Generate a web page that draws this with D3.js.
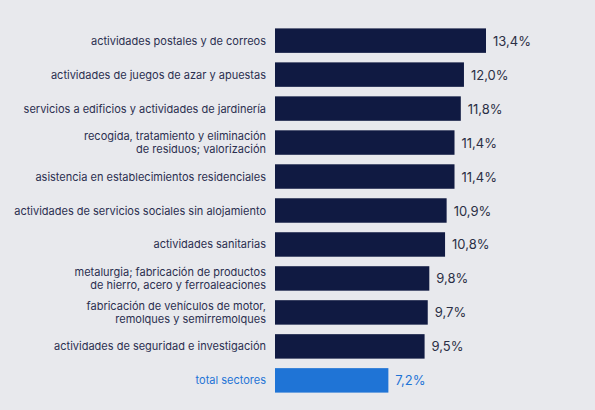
<!DOCTYPE html>
<html><head><meta charset="utf-8">
<script src="https://cdn.jsdelivr.net/npm/d3@7"></script>
<style>body{margin:0;background:#e8e9ed;}</style>
</head><body>
<svg id="chart" width="595" height="410"></svg>
<script>
// sector labels (lines) and values
var sectors = [
  ["actividades postales y de correos"],
  ["actividades de juegos de azar y apuestas"],
  ["servicios a edificios y actividades de jardinería"],
  ["recogida, tratamiento y eliminación", "de residuos; valorización"],
  ["asistencia en establecimientos residenciales"],
  ["actividades de servicios sociales sin alojamiento"],
  ["actividades sanitarias"],
  ["metalurgia; fabricación de productos", "de hierro, acero y ferroaleaciones"],
  ["fabricación de vehículos de motor,", "remolques y semirremolques"],
  ["actividades de seguridad e investigación"],
  ["total sectores"]
];
var values = [13.4, 12.0, 11.8, 11.4, 11.4, 10.9, 10.8, 9.8, 9.7, 9.5, 7.2];

var svg = d3.select("#chart");
var x = d3.scaleLinear().domain([0, 13.4]).range([275, 486]);
var y = d3.scaleBand().domain(d3.range(values.length)).range([25, 396]).paddingInner(0.28).paddingOuter(0.1);

var navy = "#101a42", blue = "#1f74d6";
var fmt = function(v){ return v.toFixed(1).replace(".", ",") + "%"; };

var g = svg.selectAll("g.row").data(values).enter().append("g");
g.append("rect")
  .attr("x", x(0)).attr("y", function(d,i){ return y(i); })
  .attr("width", function(d){ return x(d) - x(0); })
  .attr("height", y.bandwidth())
  .attr("fill", function(d,i){ return i == values.length-1 ? blue : navy; });

g.append("text")
  .attr("x", function(d){ return x(d) + 7; })
  .attr("y", function(d,i){ return y(i) + y.bandwidth()/2 + 5; })
  .attr("font-family", "Inter, sans-serif").attr("font-size", 13)
  .attr("fill", function(d,i){ return i == values.length-1 ? blue : "#2b2f45"; })
  .text(fmt);

g.each(function(d,i){
  var lines = sectors[i];
  var t = d3.select(this).append("text")
    .attr("text-anchor", "end")
    .attr("font-family", "Inter, sans-serif").attr("font-size", 11)
    .attr("fill", i == values.length-1 ? blue : "#2b2f50");
  var cy = y(i) + y.bandwidth()/2;
  lines.forEach(function(l, k){
    t.append("tspan").attr("x", 266)
      .attr("y", cy + 4 + (k - (lines.length-1)/2) * 13)
      .text(l);
  });
});
</script>
</body></html>
